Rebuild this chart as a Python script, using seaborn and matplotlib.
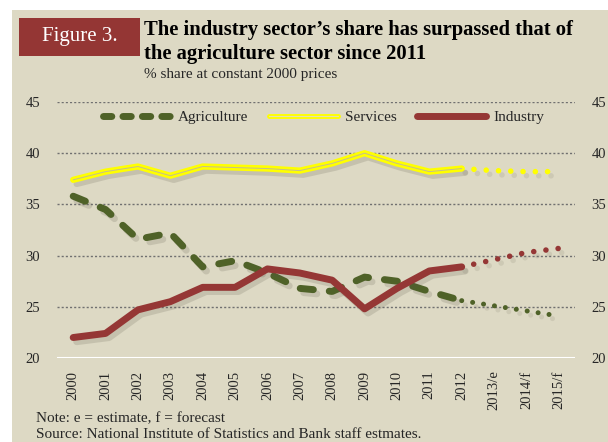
import numpy as np
import pandas as pd
import matplotlib
matplotlib.use("Agg")
from matplotlib import pyplot as plt
import matplotlib.patheffects as pe
from matplotlib.patches import Rectangle
from matplotlib.lines import Line2D
import seaborn as sns

# data
years = ['2000', '2001', '2002', '2003', '2004', '2005', '2006', '2007',
         '2008', '2009', '2010', '2011', '2012', '2013/e', '2014/f', '2015/f']
agriculture = [35.8, 34.5, 31.6, 32.2, 28.9, 29.5, 28.3, 26.8,
               26.5, 27.9, 27.5, 26.5, 25.6, 25.1, 24.6, 24.1]
services = [37.4, 38.2, 38.7, 37.8, 38.7, 38.6, 38.5, 38.3,
            39.0, 40.0, 39.0, 38.2, 38.5, 38.3, 38.2, 38.2]
industry = [22.0, 22.4, 24.7, 25.5, 26.9, 26.9, 28.7, 28.3,
            27.6, 24.8, 26.8, 28.5, 28.9, 29.6, 30.3, 30.7]
last_actual = 12  # 2012, after this the values are estimates / forecasts

bg = '#ddd9c4'
green = '#4f6228'
red = '#953735'
yellow = '#ffff00'
txt = '#262626'

sns.set_theme(style='white', rc={'axes.facecolor': bg})
plt.rcParams['font.family'] = ['Liberation Serif', 'DejaVu Serif']

df = pd.DataFrame({'x': np.arange(len(years)), 'Agriculture': agriculture,
                   'Services': services, 'Industry': industry})
hist = df[df.x <= last_actual]
fcst = df[df.x >= last_actual]

fig = plt.figure(figsize=(6.08, 4.42), dpi=100)
fig.patch.set_facecolor('white')
fig.patches.append(Rectangle((12 / 608, 0), 1, 1 - 10 / 442, transform=fig.transFigure,
                             facecolor=bg, edgecolor='none', zorder=-10))
ax = fig.add_axes([57 / 608, 1 - 358 / 442, 518 / 608, 256 / 442])
ax.set_facecolor(bg)

shadow = [pe.SimpleLineShadow(offset=(2.5, -3), shadow_color='#5a5648', alpha=0.18), pe.Normal()]
dots = (0, (0.01, 2.2))

# actual years
sns.lineplot(data=hist, x='x', y='Agriculture', ax=ax, color=green, lw=5,
             linestyle=(0, (1.9, 2.3)), dash_capstyle='round', path_effects=shadow, zorder=3)
sns.lineplot(data=hist, x='x', y='Industry', ax=ax, color=red, lw=5,
             solid_capstyle='round', path_effects=shadow, zorder=4)
sns.lineplot(data=hist, x='x', y='Services', ax=ax, color=yellow, lw=4.5,
             solid_capstyle='round', path_effects=shadow, zorder=5)
sns.lineplot(data=hist, x='x', y='Services', ax=ax, color='#c4bd92', lw=0.7, zorder=6)

# estimates / forecasts as dots
for col, c, w in [('Agriculture', green, 3.6), ('Industry', red, 4), ('Services', yellow, 4)]:
    sns.lineplot(data=fcst, x='x', y=col, ax=ax, color=c, lw=w, linestyle=dots,
                 dash_capstyle='round', zorder=5,
                 path_effects=[pe.SimpleLineShadow(offset=(2.5, -3), shadow_color='#5a5648',
                                                   alpha=0.12), pe.Normal()])

ax.set_xlim(-0.5, len(years) - 0.5)
ax.set_ylim(20, 45)
ax.set_yticks([20, 25, 30, 35, 40, 45])
ax.set_xticks(df.x)
ax.set_xticklabels(years, rotation=90, va='top')
ax.set_xlabel('')
ax.set_ylabel('')
for s in ax.spines.values():
    s.set_visible(False)
for yv in [25, 30, 35, 40, 45]:
    ax.axhline(yv, color='#707070', lw=1, linestyle=(0, (1.5, 1.5)), zorder=1)
ax.axhline(20, color='white', lw=1.5, zorder=1)
ax.tick_params(axis='y', length=0, pad=12, labelsize=10.5, labelcolor=txt,
               labelright=True)
ax.tick_params(axis='x', length=0, pad=9, labelsize=10.5, labelcolor=txt)

# legend
handles = [Line2D([], [], color=green, lw=5, linestyle=(0, (1.2, 1.6)), dash_capstyle='round'),
           Line2D([], [], color=yellow, lw=3.5, solid_capstyle='round',
                  path_effects=[pe.Normal(), pe.Stroke(linewidth=0.8, foreground='#e6e0b0')]),
           Line2D([], [], color=red, lw=5, solid_capstyle='round')]
leg = ax.legend(handles, ['Agriculture', 'Services', 'Industry'], loc='center',
                bbox_to_anchor=(0.514, 0.94), ncol=3, frameon=False, fontsize=11,
                handlelength=4.5, handletextpad=0.45, columnspacing=1.35)
for t in leg.get_texts():
    t.set_color(txt)

# header
fig.patches.append(Rectangle((19 / 608, 1 - 56 / 442), 121 / 608, 38 / 442,
                             transform=fig.transFigure, facecolor='#943634',
                             edgecolor='none'))
fig.text(79.5 / 608, 1 - 37 / 442, 'Figure 3.', color='white', fontsize=15,
         ha='center', va='center')
fig.text(144 / 608, 1 - 35 / 442, 'The industry sector\u2019s share has surpassed that of',
         fontsize=14.9, fontweight='bold', color='black', va='baseline')
fig.text(144 / 608, 1 - 59 / 442, 'the agriculture sector since 2011',
         fontsize=14.9, fontweight='bold', color='black', va='baseline')
fig.text(144 / 608, 1 - 78 / 442, '% share at constant 2000 prices',
         fontsize=11, color=txt, va='baseline')

# footer
fig.text(36 / 608, 1 - 422 / 442, 'Note: e = estimate, f = forecast',
         fontsize=11, color=txt, va='baseline')
fig.text(36 / 608, 1 - 438 / 442, 'Source: National Institute of Statistics and Bank staff estmates.',
         fontsize=11, color=txt, va='baseline')

fig.savefig('out.png', dpi=100, facecolor=fig.get_facecolor())
